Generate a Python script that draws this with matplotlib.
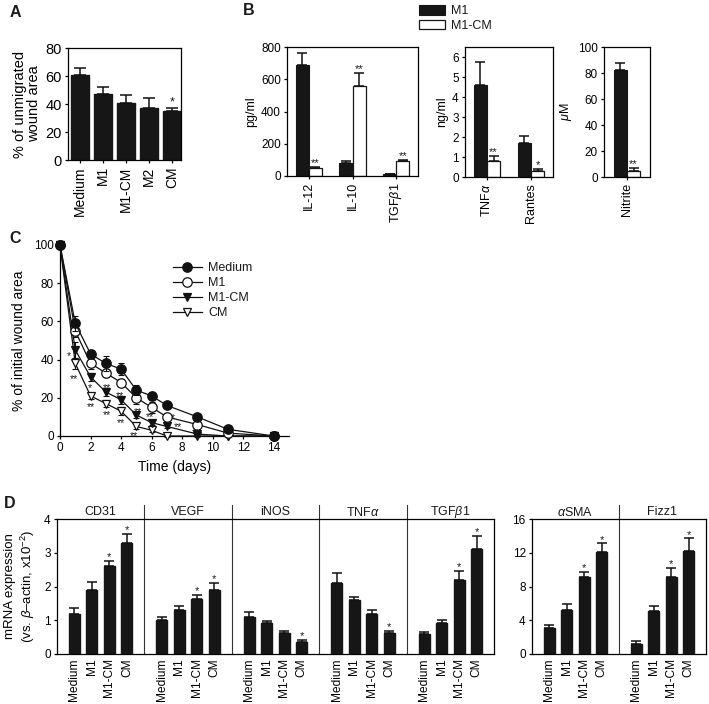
import numpy as np
import matplotlib
matplotlib.use('Agg')
import matplotlib.pyplot as plt
from matplotlib.patches import Patch

plt.rcParams['font.family'] = ['Liberation Sans', 'DejaVu Sans']
plt.rcParams['mathtext.fontset'] = 'custom'
plt.rcParams['mathtext.rm'] = 'Liberation Sans'
plt.rcParams['mathtext.it'] = 'Liberation Sans:italic'
plt.rcParams['axes.linewidth'] = 0.9
plt.rcParams['xtick.major.width'] = 0.9
plt.rcParams['ytick.major.width'] = 0.9
plt.rcParams['xtick.major.size'] = 2.5
plt.rcParams['ytick.major.size'] = 2.5
plt.rcParams['xtick.major.pad'] = 2
plt.rcParams['ytick.major.pad'] = 2
plt.rcParams['text.color'] = '#1a1a1a'

# ==== DATA ====
# panel A
a_groups = ['Medium', 'M1', 'M1-CM', 'M2', 'CM']
a_vals = [61, 47.5, 40.5, 37.5, 35]
a_err = [5, 4.5, 6, 6.5, 2.5]
a_sig = ['', '', '', '', '*']

# panel B
b1_labels = ['IL-12', 'IL-10', r'TGF$\beta$1']
b1_m1 = [690, 80, 10]
b1_m1_err = [70, 10, 3]
b1_cm = [50, 560, 90]
b1_cm_err = [8, 80, 12]
b1_sig = ['**', '**', '**']

b2_labels = [r'TNF$\alpha$', 'Rantes']
b2_m1 = [4.6, 1.7]
b2_m1_err = [1.15, 0.35]
b2_cm = [0.8, 0.3]
b2_cm_err = [0.25, 0.12]
b2_sig = ['**', '*']

b3_labels = ['Nitrite']
b3_m1 = [82]
b3_m1_err = [6]
b3_cm = [5]
b3_cm_err = [2]
b3_sig = ['**']

# panel C
c_days = [0, 1, 2, 3, 4, 5, 6, 7, 9, 11, 14]
c_medium = [100, 59, 43, 38, 35, 24, 21, 16, 10, 3.5, 0]
c_medium_err = [0, 4, 2, 4, 3, 2.5, 2, 1, 1, 1, 0]
c_m1 = [100, 55, 38, 33, 28, 20, 15, 10, 6, 1.5, 0]
c_m1_err = [0, 3, 3, 2, 2, 3, 3, 1, 1, 1, 0]
c_m1cm = [100, 45, 31, 23, 19, 11, 7, 5, 1, 0, 0]
c_m1cm_err = [0, 4, 2, 2, 2, 1.5, 1.5, 1, 0.5, 0.5, 0]
c_cm = [100, 38, 21, 17, 13, 5, 3, 0, 0, 0, 0]
c_cm_err = [0, 3, 1.5, 2, 2, 1.5, 1, 0.5, 0.5, 0.5, 0]
# significance stars: (day, % level, text)
c_stars = [(0.55, 42, '*'), (0.9, 30, '**'), (1.95, 25, '*'), (2.0, 15, '**'),
           (3.05, 25, '**'), (3.05, 11, '**'), (3.95, 21, '**'), (4.0, 7, '**'),
           (5.1, 12.5, '**'), (4.85, 0, '**'), (5.9, 10, '**'), (7.4, 9.5, '*'),
           (7.7, 4.5, '**'), (8.9, 1.5, '**')]

# panel D
d_groups = ['Medium', 'M1', 'M1-CM', 'CM']
d_left_genes = ['CD31', 'VEGF', 'iNOS', r'TNF$\alpha$', r'TGF$\beta$1']
d_left_vals = [[1.2, 1.9, 2.6, 3.3],
               [1.02, 1.3, 1.62, 1.9],
               [1.1, 0.92, 0.62, 0.36],
               [2.1, 1.6, 1.2, 0.61],
               [0.6, 0.92, 2.2, 3.1]]
d_left_err = [[0.15, 0.22, 0.15, 0.25],
              [0.08, 0.12, 0.13, 0.2],
              [0.13, 0.07, 0.07, 0.06],
              [0.3, 0.1, 0.1, 0.07],
              [0.05, 0.1, 0.27, 0.4]]
d_left_sig = [['', '', '*', '*'], ['', '', '*', '*'], ['', '', '', '*'],
              ['', '', '', '*'], ['', '', '*', '*']]
d_right_genes = [r'$\alpha$SMA', 'Fizz1']
d_right_vals = [[3.1, 5.2, 9.1, 12.1],
                [1.2, 5.1, 9.1, 12.2]]
d_right_err = [[0.3, 0.7, 0.6, 1.0],
               [0.3, 0.6, 1.1, 1.5]]
d_right_sig = [['', '', '*', '*'], ['', '', '*', '*']]
# ==============

W, H = 709, 704
fig = plt.figure(figsize=(W / 100, H / 100), dpi=100)


def ax_px(l, t, r, b):
    return fig.add_axes([l / W, 1 - b / H, (r - l) / W, (b - t) / H])


def stars(ax, xs, tops, sig, fs=8):
    for x, y, s in zip(xs, tops, sig):
        if s:
            ax.annotate(s, (x, y), xytext=(0, -1), textcoords='offset points',
                        ha='center', va='bottom', fontsize=fs)


def up_err(ax, xs, vals, err, cap=4):
    ax.errorbar(xs, vals, yerr=[np.zeros(len(err)), err], fmt='none',
                ecolor='#111111', elinewidth=1.1, capsize=cap, capthick=1.1)


# ---- A ----
ax = ax_px(68, 48, 181, 160)
xa = np.arange(len(a_groups))
ax.bar(xa, a_vals, width=0.78, color='#161616', edgecolor='#161616', zorder=2)
up_err(ax, xa, a_vals, a_err, cap=4.5)
stars(ax, xa, np.add(a_vals, a_err), a_sig, fs=9)
ax.set_xlim(-0.52, 4.4)
ax.set_ylim(0, 80)
ax.set_yticks([0, 20, 40, 60, 80])
ax.set_xticks(xa)
ax.set_xticklabels(a_groups, rotation=90, fontsize=10)
ax.tick_params(axis='y', labelsize=10.5)
ax.set_ylabel('% of unmigrated\nwound area', fontsize=10.5, linespacing=1.0, labelpad=3)


# ---- B ----
def pair_panel(ax, labels, m1, m1e, cm, cme, sig, ylim, yticks, ylabel):
    x = np.arange(len(labels))
    w = 0.3
    ax.bar(x - w / 2, m1, width=w, color='#161616', edgecolor='#161616', lw=0.8, zorder=2)
    ax.bar(x + w / 2, cm, width=w, color='white', edgecolor='#161616', lw=0.9, zorder=2)
    up_err(ax, x - w / 2, m1, m1e, cap=3.5)
    up_err(ax, x + w / 2, cm, cme, cap=3.5)
    stars(ax, x + w / 2, np.add(cm, cme), sig, fs=8)
    ax.set_ylim(*ylim)
    ax.set_yticks(yticks)
    ax.set_xticks(x)
    ax.set_xticklabels(labels, rotation=90, fontsize=9)
    ax.tick_params(axis='y', labelsize=8.5)
    ax.set_ylabel(ylabel, fontsize=9, labelpad=3)


ax = ax_px(287, 47, 418, 176)
pair_panel(ax, b1_labels, b1_m1, b1_m1_err, b1_cm, b1_cm_err, b1_sig,
           (0, 800), [0, 200, 400, 600, 800], 'pg/ml')
ax.set_xlim(-0.5, 2.5)

ax = ax_px(465, 47, 553, 177)
pair_panel(ax, b2_labels, b2_m1, b2_m1_err, b2_cm, b2_cm_err, b2_sig,
           (0, 6.5), [0, 1, 2, 3, 4, 5, 6], 'ng/ml')
ax.set_xlim(-0.5, 1.5)

ax = ax_px(604, 47, 650, 177)
pair_panel(ax, b3_labels, b3_m1, b3_m1_err, b3_cm, b3_cm_err, b3_sig,
           (0, 100), [0, 20, 40, 60, 80, 100], r'$\mu$M')
ax.set_xlim(-0.52, 0.52)

fig.legend(handles=[Patch(facecolor='#161616', edgecolor='#161616', lw=0.8),
                    Patch(facecolor='white', edgecolor='#161616', lw=0.9)],
           labels=['M1', 'M1-CM'], loc='upper left',
           bbox_to_anchor=(419 / W, 1 - 5 / H), bbox_transform=fig.transFigure,
           frameon=False, fontsize=9, handlelength=2.1, handleheight=0.8,
           handletextpad=0.5, labelspacing=0.2, borderpad=0, borderaxespad=0)

# ---- C ----
ax = ax_px(60, 245, 289, 436)
series = [(c_medium, c_medium_err, 'o', '#111111', 'Medium', 6.8),
          (c_m1, c_m1_err, 'o', 'white', 'M1', 6.8),
          (c_m1cm, c_m1cm_err, 'v', '#111111', 'M1-CM', 6.2),
          (c_cm, c_cm_err, 'v', 'white', 'CM', 6.2)]
handles = []
for i, (vals, err, mk, fc, name, ms) in enumerate(series):
    z = 10 - 2 * i  # Medium drawn on top where points coincide
    ax.errorbar(c_days, vals, yerr=err, fmt='none', ecolor='#111111',
                elinewidth=0.8, capsize=2.5, capthick=0.8, zorder=z - 1, clip_on=False)
    ln, = ax.plot(c_days, vals, color='#111111', lw=0.9, marker=mk, ms=ms,
                  mfc=fc, mec='#111111', mew=0.9, zorder=z, clip_on=False)
    handles.append(ln)
for d, v, s in c_stars:
    ax.text(d, v, s, ha='center', va='center', fontsize=7.5, zorder=12)
ax.set_xlim(0, 15)
ax.set_ylim(0, 100)
ax.set_xticks(range(0, 15, 2))
ax.set_yticks(range(0, 101, 20))
ax.spines['top'].set_visible(False)
ax.spines['right'].set_visible(False)
ax.tick_params(labelsize=8.5)
ax.set_xlabel('Time (days)', fontsize=10, labelpad=4)
ax.set_ylabel('% of initial wound area', fontsize=10, labelpad=6)
fig.legend(handles=handles, labels=[s[4] for s in series], loc='upper left',
           bbox_to_anchor=(173 / W, 1 - 262 / H), bbox_transform=fig.transFigure,
           frameon=False, fontsize=9, handlelength=2.3, handletextpad=0.5,
           labelspacing=0.25, borderpad=0, borderaxespad=0)


# ---- D ----
def gene_panel(ax, genes, vals, errs, sigs, ytop, yticks):
    xs, labs = [], []
    for k in range(len(genes)):
        x = 5 * k + np.arange(1, 5)
        ax.bar(x, vals[k], width=0.63, color='#161616', edgecolor='#161616', zorder=2)
        up_err(ax, x, vals[k], errs[k], cap=3.5)
        stars(ax, x, np.add(vals[k], errs[k]), sigs[k], fs=8)
        ax.text(5 * k + 2.5, ytop * 1.05, genes[k], ha='center', va='center', fontsize=9)
        if k > 0:
            ax.plot([5 * k, 5 * k], [0, ytop * 1.105], color='#333333', lw=0.8,
                    clip_on=False, zorder=1)
        xs.extend(x)
        labs.extend(d_groups)
    ax.set_xlim(0, 5 * len(genes))
    ax.set_ylim(0, ytop)
    ax.set_yticks(yticks)
    ax.set_xticks(xs)
    ax.set_xticklabels(labs, rotation=90, fontsize=8.6)
    ax.tick_params(axis='x', length=0, pad=3)
    ax.tick_params(axis='y', labelsize=8.5)


ax = ax_px(57, 519, 494, 654)
gene_panel(ax, d_left_genes, d_left_vals, d_left_err, d_left_sig, 4, [0, 1, 2, 3, 4])
ax.set_ylabel('mRNA expression\n' + r'(vs. $\beta$–actin, x10$^{-2}$)',
              fontsize=9.5, linespacing=1.2, labelpad=5)

ax = ax_px(532, 519, 706, 654)
gene_panel(ax, d_right_genes, d_right_vals, d_right_err, d_right_sig, 16, [0, 4, 8, 12, 16])

# panel letters
for lab, x, y in [('A', 10, 5), ('B', 243, 3), ('C', 9, 231), ('D', 4, 496)]:
    fig.text(x / W, 1 - y / H, lab, fontsize=11.5, fontweight='bold', ha='left', va='top')

fig.savefig('out.png', dpi=100)
